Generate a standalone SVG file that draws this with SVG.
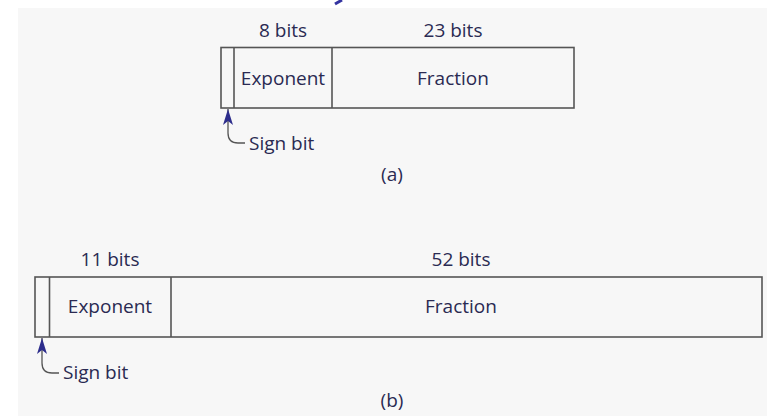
<svg xmlns="http://www.w3.org/2000/svg" width="767" height="416" viewBox="0 0 767 416">
<defs>
<style>
.t{font-family:"Open Sans","Noto Sans",sans-serif;font-size:19px;fill:#2a2a52;text-anchor:middle}
.s{text-anchor:start}
.box{fill:none;stroke:#555;stroke-width:1.6}
.ln{fill:none;stroke:#555;stroke-width:1.3}
</style>
<marker id="ah" viewBox="0 0 16 10" refX="16" refY="5" markerWidth="16" markerHeight="10" markerUnits="userSpaceOnUse" orient="auto">
<path d="M0,0 L16,5 L0,10 L4,5 Z" fill="#2d2d8c"/>
</marker>
</defs>
<rect width="767" height="416" fill="#fff"/>
<rect x="18" y="8" width="749" height="408" fill="#f7f7f7"/>
<path d="M335,4 L342,0" stroke="#3333a0" stroke-width="3" fill="none"/>
<g id="a-format">
<rect class="box" x="221" y="47.5" width="353" height="60.5"/>
<line class="box" x1="234" y1="47.5" x2="234" y2="108"/>
<line class="box" x1="332" y1="47.5" x2="332" y2="108"/>
<text class="t" x="283" y="37">8 bits</text>
<text class="t" x="453" y="37">23 bits</text>
<text class="t" x="283" y="85">Exponent</text>
<text class="t" x="453" y="85">Fraction</text>
<text class="t s" x="249" y="150">Sign bit</text>
<text class="t" x="392" y="181">(a)</text>
</g>
<g id="b-format">
<rect class="box" x="35" y="277" width="727" height="60"/>
<line class="box" x1="49.5" y1="277" x2="49.5" y2="337"/>
<line class="box" x1="171" y1="277" x2="171" y2="337"/>
<text class="t" x="110" y="266">11 bits</text>
<text class="t" x="461" y="266">52 bits</text>
<text class="t" x="110" y="313">Exponent</text>
<text class="t" x="461" y="313">Fraction</text>
<text class="t s" x="63" y="379">Sign bit</text>
<text class="t" x="392" y="407">(b)</text>
</g>
<g id="connectors">
<path class="ln" d="M245,143 L238,143 Q228,143 228,133 L228,109" marker-end="url(#ah)"/>
<path class="ln" d="M59,373 L52,373 Q42,373 42,363 L42,338" marker-end="url(#ah)"/>
</g>
</svg>
